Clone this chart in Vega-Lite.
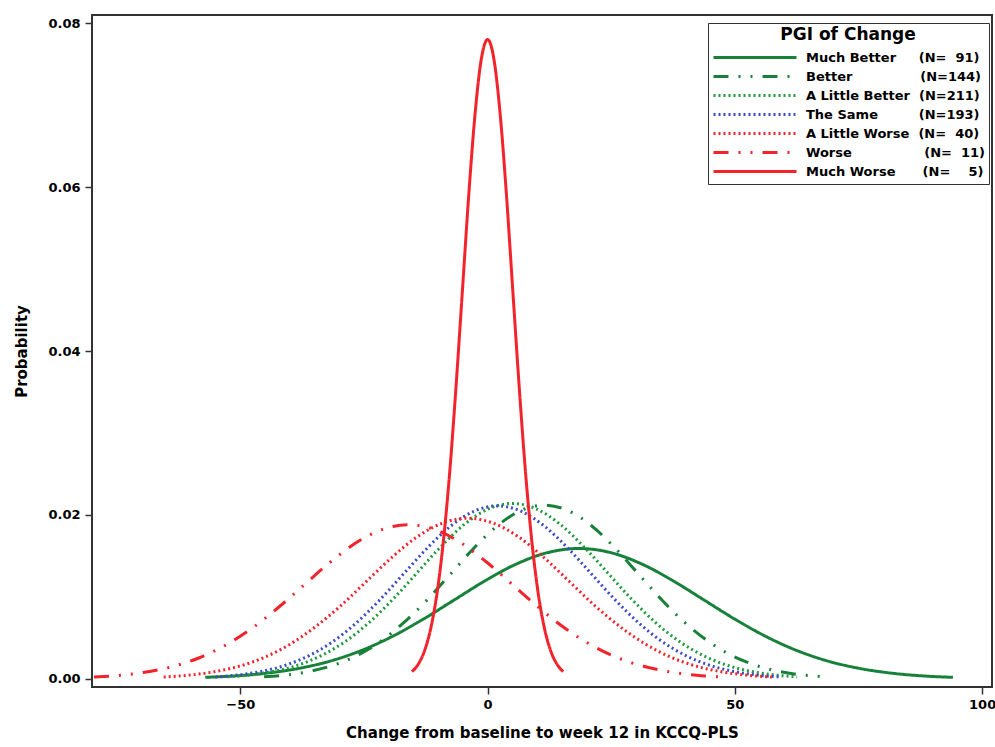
{
  "$schema": "https://vega.github.io/schema/vega-lite/v6.json",
  "width": 900,
  "height": 672,
  "autosize": {"type": "none"},
  "padding": {"left": 92, "top": 15, "right": 3, "bottom": 60},
  "background": "white",
  "config": {
    "view": {"stroke": "#333333", "strokeWidth": 2},
    "font": "DejaVu Sans",
    "axis": {
      "labelFont": "DejaVu Sans", "labelFontWeight": "bold", "labelFontSize": 13, "labelColor": "#000000",
      "titleFont": "DejaVu Sans", "titleFontWeight": "bold", "titleFontSize": 15, "titleColor": "#000000",
      "domain": false, "tickColor": "#333333", "tickWidth": 1.5, "tickSize": 7, "grid": false
    }
  },
  "data": {"values": [
    {"g":"Much Better","x":-57.1,"y":0.00018},{"g":"Much Better","x":-50.8,"y":0.00036},{"g":"Much Better","x":-44.5,"y":0.00070},{"g":"Much Better","x":-38.2,"y":0.00127},{"g":"Much Better","x":-31.9,"y":0.00215},{"g":"Much Better","x":-25.6,"y":0.00344},{"g":"Much Better","x":-19.3,"y":0.00516},{"g":"Much Better","x":-13.0,"y":0.00728},{"g":"Much Better","x":-6.7,"y":0.00964},{"g":"Much Better","x":-0.4,"y":0.01200},{"g":"Much Better","x":5.9,"y":0.01403},{"g":"Much Better","x":12.2,"y":0.01541},{"g":"Much Better","x":18.5,"y":0.01590},{"g":"Much Better","x":24.8,"y":0.01541},{"g":"Much Better","x":31.1,"y":0.01403},{"g":"Much Better","x":37.4,"y":0.01200},{"g":"Much Better","x":43.7,"y":0.00964},{"g":"Much Better","x":50.0,"y":0.00728},{"g":"Much Better","x":56.3,"y":0.00516},{"g":"Much Better","x":62.6,"y":0.00344},{"g":"Much Better","x":68.9,"y":0.00215},{"g":"Much Better","x":75.2,"y":0.00127},{"g":"Much Better","x":81.5,"y":0.00070},{"g":"Much Better","x":87.8,"y":0.00036},{"g":"Much Better","x":94.1,"y":0.00018},
    {"g":"Better","x":-45.2,"y":0.00024},{"g":"Better","x":-40.5,"y":0.00048},{"g":"Better","x":-35.75,"y":0.00093},{"g":"Better","x":-31.0,"y":0.00169},{"g":"Better","x":-26.3,"y":0.00287},{"g":"Better","x":-21.6,"y":0.00458},{"g":"Better","x":-16.9,"y":0.00688},{"g":"Better","x":-12.1,"y":0.00971},{"g":"Better","x":-7.4,"y":0.01286},{"g":"Better","x":-2.7,"y":0.01600},{"g":"Better","x":2.05,"y":0.01871},{"g":"Better","x":6.8,"y":0.02055},{"g":"Better","x":11.5,"y":0.02120},{"g":"Better","x":16.2,"y":0.02055},{"g":"Better","x":20.95,"y":0.01871},{"g":"Better","x":25.7,"y":0.01600},{"g":"Better","x":30.4,"y":0.01286},{"g":"Better","x":35.1,"y":0.00971},{"g":"Better","x":39.85,"y":0.00688},{"g":"Better","x":44.6,"y":0.00458},{"g":"Better","x":49.3,"y":0.00287},{"g":"Better","x":54.0,"y":0.00169},{"g":"Better","x":58.75,"y":0.00093},{"g":"Better","x":63.5,"y":0.00048},{"g":"Better","x":68.2,"y":0.00024},
    {"g":"A Little Better","x":-52.6,"y":0.00024},{"g":"A Little Better","x":-47.8,"y":0.00049},{"g":"A Little Better","x":-43.0,"y":0.00094},{"g":"A Little Better","x":-38.2,"y":0.00170},{"g":"A Little Better","x":-33.4,"y":0.00290},{"g":"A Little Better","x":-28.6,"y":0.00463},{"g":"A Little Better","x":-23.8,"y":0.00695},{"g":"A Little Better","x":-19.0,"y":0.00980},{"g":"A Little Better","x":-14.2,"y":0.01298},{"g":"A Little Better","x":-9.4,"y":0.01615},{"g":"A Little Better","x":-4.6,"y":0.01889},{"g":"A Little Better","x":0.2,"y":0.02074},{"g":"A Little Better","x":5.0,"y":0.02140},{"g":"A Little Better","x":9.8,"y":0.02074},{"g":"A Little Better","x":14.6,"y":0.01889},{"g":"A Little Better","x":19.4,"y":0.01615},{"g":"A Little Better","x":24.2,"y":0.01298},{"g":"A Little Better","x":29.0,"y":0.00980},{"g":"A Little Better","x":33.8,"y":0.00695},{"g":"A Little Better","x":38.6,"y":0.00463},{"g":"A Little Better","x":43.4,"y":0.00290},{"g":"A Little Better","x":48.2,"y":0.00170},{"g":"A Little Better","x":53.0,"y":0.00094},{"g":"A Little Better","x":57.8,"y":0.00049},{"g":"A Little Better","x":62.6,"y":0.00024},
    {"g":"The Same","x":-55.0,"y":0.00023},{"g":"The Same","x":-50.25,"y":0.00048},{"g":"The Same","x":-45.5,"y":0.00093},{"g":"The Same","x":-40.75,"y":0.00168},{"g":"The Same","x":-36.0,"y":0.00286},{"g":"The Same","x":-31.25,"y":0.00456},{"g":"The Same","x":-26.5,"y":0.00685},{"g":"The Same","x":-21.75,"y":0.00966},{"g":"The Same","x":-17.0,"y":0.01280},{"g":"The Same","x":-12.25,"y":0.01593},{"g":"The Same","x":-7.5,"y":0.01862},{"g":"The Same","x":-2.75,"y":0.02045},{"g":"The Same","x":2.0,"y":0.02110},{"g":"The Same","x":6.75,"y":0.02045},{"g":"The Same","x":11.5,"y":0.01862},{"g":"The Same","x":16.25,"y":0.01593},{"g":"The Same","x":21.0,"y":0.01280},{"g":"The Same","x":25.75,"y":0.00966},{"g":"The Same","x":30.5,"y":0.00685},{"g":"The Same","x":35.25,"y":0.00456},{"g":"The Same","x":40.0,"y":0.00286},{"g":"The Same","x":44.75,"y":0.00168},{"g":"The Same","x":49.5,"y":0.00093},{"g":"The Same","x":54.25,"y":0.00048},{"g":"The Same","x":59.0,"y":0.00023},
    {"g":"A Little Worse","x":-65.5,"y":0.00022},{"g":"A Little Worse","x":-60.4,"y":0.00045},{"g":"A Little Worse","x":-55.3,"y":0.00086},{"g":"A Little Worse","x":-50.1,"y":0.00156},{"g":"A Little Worse","x":-45.0,"y":0.00265},{"g":"A Little Worse","x":-39.9,"y":0.00424},{"g":"A Little Worse","x":-34.8,"y":0.00636},{"g":"A Little Worse","x":-29.6,"y":0.00897},{"g":"A Little Worse","x":-24.5,"y":0.01189},{"g":"A Little Worse","x":-19.4,"y":0.01479},{"g":"A Little Worse","x":-14.3,"y":0.01730},{"g":"A Little Worse","x":-9.1,"y":0.01900},{"g":"A Little Worse","x":-4.0,"y":0.01960},{"g":"A Little Worse","x":1.1,"y":0.01900},{"g":"A Little Worse","x":6.3,"y":0.01730},{"g":"A Little Worse","x":11.4,"y":0.01479},{"g":"A Little Worse","x":16.5,"y":0.01189},{"g":"A Little Worse","x":21.6,"y":0.00897},{"g":"A Little Worse","x":26.8,"y":0.00636},{"g":"A Little Worse","x":31.9,"y":0.00424},{"g":"A Little Worse","x":37.0,"y":0.00265},{"g":"A Little Worse","x":42.1,"y":0.00156},{"g":"A Little Worse","x":47.3,"y":0.00086},{"g":"A Little Worse","x":52.4,"y":0.00045},{"g":"A Little Worse","x":57.5,"y":0.00022},
    {"g":"Worse","x":-79.6,"y":0.00021},{"g":"Worse","x":-74.3,"y":0.00043},{"g":"Worse","x":-69.0,"y":0.00083},{"g":"Worse","x":-63.7,"y":0.00150},{"g":"Worse","x":-58.4,"y":0.00254},{"g":"Worse","x":-53.1,"y":0.00407},{"g":"Worse","x":-47.8,"y":0.00610},{"g":"Worse","x":-42.5,"y":0.00861},{"g":"Worse","x":-37.2,"y":0.01140},{"g":"Worse","x":-31.9,"y":0.01419},{"g":"Worse","x":-26.6,"y":0.01659},{"g":"Worse","x":-21.3,"y":0.01822},{"g":"Worse","x":-16.0,"y":0.01880},{"g":"Worse","x":-10.7,"y":0.01822},{"g":"Worse","x":-5.4,"y":0.01659},{"g":"Worse","x":-0.1,"y":0.01419},{"g":"Worse","x":5.2,"y":0.01140},{"g":"Worse","x":10.5,"y":0.00861},{"g":"Worse","x":15.8,"y":0.00610},{"g":"Worse","x":21.1,"y":0.00407},{"g":"Worse","x":26.4,"y":0.00254},{"g":"Worse","x":31.7,"y":0.00150},{"g":"Worse","x":37.0,"y":0.00083},{"g":"Worse","x":42.3,"y":0.00043},{"g":"Worse","x":47.6,"y":0.00021},
    {"g":"Much Worse","x":-15.3,"y":0.00087},{"g":"Much Worse","x":-14.03,"y":0.00178},{"g":"Much Worse","x":-12.75,"y":0.00343},{"g":"Much Worse","x":-11.48,"y":0.00621},{"g":"Much Worse","x":-10.2,"y":0.01056},{"g":"Much Worse","x":-8.93,"y":0.01687},{"g":"Much Worse","x":-7.65,"y":0.02532},{"g":"Much Worse","x":-6.38,"y":0.03571},{"g":"Much Worse","x":-5.1,"y":0.04731},{"g":"Much Worse","x":-3.83,"y":0.05888},{"g":"Much Worse","x":-2.55,"y":0.06884},{"g":"Much Worse","x":-1.28,"y":0.07560},{"g":"Much Worse","x":0.0,"y":0.07800},{"g":"Much Worse","x":1.28,"y":0.07560},{"g":"Much Worse","x":2.55,"y":0.06884},{"g":"Much Worse","x":3.83,"y":0.05888},{"g":"Much Worse","x":5.1,"y":0.04731},{"g":"Much Worse","x":6.38,"y":0.03571},{"g":"Much Worse","x":7.65,"y":0.02532},{"g":"Much Worse","x":8.93,"y":0.01687},{"g":"Much Worse","x":10.2,"y":0.01056},{"g":"Much Worse","x":11.48,"y":0.00621},{"g":"Much Worse","x":12.75,"y":0.00343},{"g":"Much Worse","x":14.03,"y":0.00178},{"g":"Much Worse","x":15.3,"y":0.00087}
  ]},
  "mark": {"type": "line", "interpolate": "monotone", "strokeCap": "butt"},
  "encoding": {
    "x": {
      "field": "x", "type": "quantitative",
      "scale": {"domain": [-80, 102], "nice": false, "zero": false},
      "axis": {"values": [-50, 0, 50, 100], "title": "Change from baseline to week 12 in KCCQ-PLS", "labelPadding": 4, "titlePadding": 14}
    },
    "y": {
      "field": "y", "type": "quantitative",
      "scale": {"domain": [-0.001, 0.081], "nice": false, "zero": false},
      "axis": {"values": [0, 0.02, 0.04, 0.06, 0.08], "format": ".2f", "title": "Probability", "labelPadding": 5, "titlePadding": 18}
    },
    "color": {
      "field": "g", "type": "nominal",
      "scale": {
        "domain": ["Much Better", "Better", "A Little Better", "The Same", "A Little Worse", "Worse", "Much Worse"],
        "range": ["#17813a", "#17813a", "#1f9a3f", "#3c4cc4", "#f2232b", "#f2232b", "#f2232b"]
      },
      "legend": {
        "title": "PGI of Change",
        "orient": "none",
        "legendX": 616,
        "legendY": 8,
        "titleFont": "DejaVu Sans", "titleFontWeight": "bold", "titleFontSize": 17, "titleColor": "#000000",
        "titleAnchor": "middle", "titlePadding": 5,
        "labelFont": "DejaVu Sans", "labelFontWeight": "bold", "labelFontSize": 13, "labelColor": "#000000",
        "labelOffset": 8, "labelLimit": 400,
        "symbolType": "stroke", "symbolSize": 6889, "symbolStrokeWidth": 2.5,
        "clipHeight": 17, "rowPadding": 2,
        "strokeColor": "#333333", "fillColor": "#ffffff", "padding": 4,
        "labelExpr": "datum.label == 'Much Better' ? 'Much Better\u00a0\u00a0\u00a0\u00a0\u00a0(N=\u00a0\u00a091)' : datum.label == 'Better' ? 'Better\u00a0\u00a0\u00a0\u00a0\u00a0\u00a0\u00a0\u00a0\u00a0\u00a0\u00a0\u00a0\u00a0\u00a0\u00a0(N=144)' : datum.label == 'A Little Better' ? 'A Little Better\u00a0\u00a0(N=211)' : datum.label == 'The Same' ? 'The Same\u00a0\u00a0\u00a0\u00a0\u00a0\u00a0\u00a0\u00a0\u00a0(N=193)' : datum.label == 'A Little Worse' ? 'A Little Worse\u00a0\u00a0(N=\u00a0\u00a040)' : datum.label == 'Worse' ? 'Worse\u00a0\u00a0\u00a0\u00a0\u00a0\u00a0\u00a0\u00a0\u00a0\u00a0\u00a0\u00a0\u00a0\u00a0\u00a0\u00a0(N=\u00a0\u00a011)' : 'Much Worse\u00a0\u00a0\u00a0\u00a0\u00a0\u00a0(N=\u00a0\u00a0\u00a0\u00a05)'"
      }
    },
    "strokeDash": {
      "field": "g", "type": "nominal",
      "scale": {
        "domain": ["Much Better", "Better", "A Little Better", "The Same", "A Little Worse", "Worse", "Much Worse"],
        "range": [[1, 0], [15, 10, 2, 10, 2, 10], [2, 3], [2, 3], [2, 3], [15, 10, 2, 10, 2, 10], [1, 0]]
      }
    },
    "strokeWidth": {
      "field": "g", "type": "ordinal",
      "scale": {
        "domain": ["Much Better", "Better", "A Little Better", "The Same", "A Little Worse", "Worse", "Much Worse"],
        "range": [3, 3, 2.5, 2.5, 2.5, 3, 3]
      },
      "legend": null
    }
  }
}
